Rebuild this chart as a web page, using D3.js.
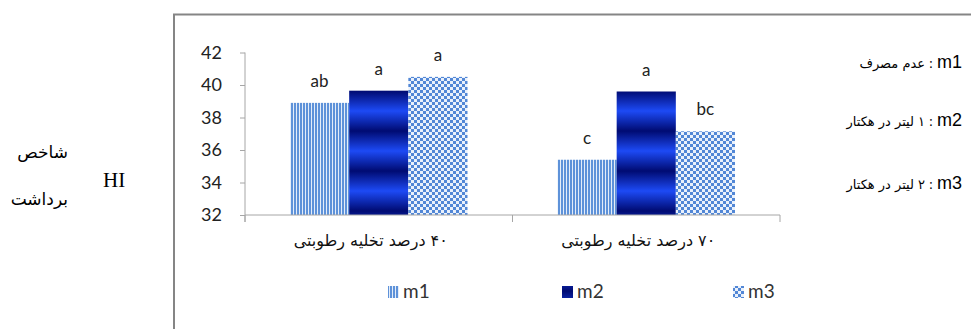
<!DOCTYPE html>
<html>
<head>
<meta charset="utf-8">
<script src="https://cdn.jsdelivr.net/npm/d3@7"></script>
<style>
  html, body { margin: 0; padding: 0; background: #ffffff; }
  svg { display: block; }
  .rtl { direction: rtl; unicode-bidi: embed; }
</style>
</head>
<body>
<svg id="chart" width="971" height="329"></svg>
<script>
// ---------- data ----------
const categories = ["۴۰ درصد تخلیه رطوبتی", "۷۰ درصد تخلیه رطوبتی"];
const seriesNames = ["m1", "m2", "m3"];
const m1Values = [38.9, 35.4];
const m2Values = [39.65, 39.6];
const m3Values = [40.5, 37.15];
const m1Letters = ["ab", "c"];
const m2Letters = ["a", "a"];
const m3Letters = ["a", "bc"];
const yTicks = [32, 34, 36, 38, 40, 42];
const sideLegendKeys = ["m1", "m2", "m3"];
const sideLegendTexts = ["عدم مصرف", "۱ لیتر در هکتار", "۲ لیتر در هکتار"];
const yTitleLines = ["شاخص", "برداشت"];
const yTitleAbbr = "HI";

// ---------- setup ----------
const svg = d3.select("#chart");
const defs = svg.append("defs");

// m1: vertical stripes
const p1 = defs.append("pattern").attr("id", "pat-m1")
  .attr("patternUnits", "userSpaceOnUse").attr("width", 3).attr("height", 6);
p1.append("rect").attr("width", 3).attr("height", 6).attr("fill", "#e4edf9");
p1.append("rect").attr("width", 2).attr("height", 6).attr("fill", "#5e92d9");

// m2: horizontal banded gradient
const g2 = defs.append("linearGradient").attr("id", "grad-m2")
  .attr("x1", 0).attr("y1", 0).attr("x2", 0).attr("y2", 1);
[[0, "#000b72"], [0.5, "#1d4af5"], [1, "#000b72"]].forEach(([o, c]) =>
  g2.append("stop").attr("offset", o).attr("stop-color", c));
const p2 = defs.append("pattern").attr("id", "pat-m2")
  .attr("patternUnits", "userSpaceOnUse").attr("x", 0).attr("y", 91)
  .attr("width", 10).attr("height", 40);
p2.append("rect").attr("width", 10).attr("height", 40).attr("fill", "url(#grad-m2)");

// m3: checkerboard
const p3 = defs.append("pattern").attr("id", "pat-m3")
  .attr("patternUnits", "userSpaceOnUse").attr("width", 6).attr("height", 6);
p3.append("rect").attr("width", 6).attr("height", 6).attr("fill", "#eaf1fb");
p3.append("rect").attr("width", 3).attr("height", 3).attr("fill", "#5287d6");
p3.append("rect").attr("x", 3).attr("y", 3).attr("width", 3).attr("height", 3).attr("fill", "#5287d6");

const fills = { m1: "url(#pat-m1)", m2: "url(#pat-m2)", m3: "url(#pat-m3)" };

// ---------- frame ----------
svg.append("path")
  .attr("d", "M174,340 L174,14.5 L980,14.5")
  .attr("fill", "none").attr("stroke", "#858585").attr("stroke-width", 2);

// ---------- scales ----------
const x0 = d3.scaleBand().domain(categories).range([245, 780]).paddingInner(0).paddingOuter(0);
const x1 = d3.scaleBand().domain(seriesNames).range([45, x0.bandwidth() - 45]).padding(0);
const y = d3.scaleLinear().domain([32, 42]).range([215, 52.5]);

const valuesBySeries = { m1: m1Values, m2: m2Values, m3: m3Values };
const lettersBySeries = { m1: m1Letters, m2: m2Letters, m3: m3Letters };

// ---------- bars ----------
const rows = [];
categories.forEach((c, i) => seriesNames.forEach(s =>
  rows.push({ cat: c, s, v: valuesBySeries[s][i], letter: lettersBySeries[s][i] })));

svg.append("g").selectAll("rect").data(rows).join("rect")
  .attr("x", d => x0(d.cat) + x1(d.s))
  .attr("y", d => y(d.v))
  .attr("width", x1.bandwidth())
  .attr("height", d => y(32) - y(d.v))
  .attr("fill", d => fills[d.s]);

svg.append("g").selectAll("text").data(rows).join("text")
  .attr("x", d => x0(d.cat) + x1(d.s) + x1.bandwidth() / 2)
  .attr("y", d => y(d.v) - 16)
  .attr("text-anchor", "middle")
  .attr("font-family", "Lato, 'Open Sans', sans-serif")
  .attr("font-size", 17)
  .attr("fill", "#222")
  .text(d => d.letter);

// ---------- axes ----------
const yAxis = svg.append("g").attr("transform", "translate(245,0)")
  .call(d3.axisLeft(y).tickValues(yTicks).tickSize(5).tickPadding(18).tickFormat(d3.format("d")));
yAxis.select(".domain").attr("stroke", "#a6a6a6").attr("d", "M0,52.5V222");
yAxis.selectAll(".tick line").attr("stroke", "#a6a6a6");
yAxis.selectAll(".tick text")
  .attr("font-family", "Lato, 'Open Sans', sans-serif")
  .attr("font-size", 18).attr("fill", "#222");

const xAxis = svg.append("g").attr("transform", "translate(0,215)");
xAxis.append("line").attr("x1", 245).attr("x2", 780).attr("y1", 0).attr("y2", 0)
  .attr("stroke", "#a6a6a6");
const bounds = [x0.range()[0], ...categories.slice(1).map(c => x0(c)), x0.range()[1]];
xAxis.selectAll("line.tk").data(bounds).join("line").attr("class", "tk")
  .attr("x1", d => d).attr("x2", d => d).attr("y1", 0).attr("y2", 7)
  .attr("stroke", "#a6a6a6");
xAxis.selectAll("text").data(categories).join("text")
  .attr("class", "rtl")
  .attr("x", d => x0(d) + x0.bandwidth() / 2 - 8)
  .attr("y", 31)
  .attr("text-anchor", "middle")
  .attr("font-family", "'DejaVu Sans', serif")
  .attr("font-size", 16)
  .attr("fill", "#111")
  .text(d => d);

// ---------- bottom legend ----------
const legendX = [388, 562, 733];
const lg = svg.append("g");
seriesNames.forEach((s, i) => {
  lg.append("rect").attr("x", legendX[i]).attr("y", 286).attr("width", 11).attr("height", 12)
    .attr("fill", fills[s]);
  lg.append("text").attr("x", legendX[i] + 15).attr("y", 298)
    .attr("font-family", "Lato, 'Open Sans', sans-serif")
    .attr("font-size", 19).attr("fill", "#333").text(s);
});

// ---------- right-side key ----------
const keyY = [68, 126, 189];
sideLegendKeys.forEach((k, i) => {
  const t = svg.append("text").attr("x", 962).attr("y", keyY[i])
    .attr("text-anchor", "end")
    .attr("font-family", "'Liberation Sans', Arial, sans-serif")
    .attr("font-size", 18).attr("fill", "#000").text(k);
  const w = t.node().getComputedTextLength();
  const colon = svg.append("text").attr("x", 962 - w - 4).attr("y", keyY[i])
    .attr("text-anchor", "end")
    .attr("font-family", "'Liberation Serif', serif")
    .attr("font-size", 14).attr("fill", "#000").text(":");
  const cw = colon.node().getComputedTextLength();
  const pt = svg.append("text").attr("x", 0).attr("y", keyY[i])
    .attr("class", "rtl")
    .attr("text-anchor", "middle")
    .attr("font-family", "'DejaVu Sans', serif")
    .attr("font-size", 13).attr("fill", "#000").text(sideLegendTexts[i]);
  const pw = pt.node().getComputedTextLength();
  pt.attr("x", 962 - w - 4 - cw - 4 - pw / 2);
});

// ---------- y title ----------
yTitleLines.forEach((line, i) => {
  const t = svg.append("text").attr("x", 0).attr("y", [158, 205][i])
    .attr("class", "rtl")
    .attr("text-anchor", "middle")
    .attr("font-family", "'DejaVu Sans', serif").attr("font-size", 17).attr("fill", "#000")
    .text(line);
  const tw = t.node().getComputedTextLength();
  t.attr("x", 68 - tw / 2);
});
svg.append("text").attr("x", 103).attr("y", 187)
  .attr("font-family", "'Liberation Serif', serif").attr("font-size", 21).attr("fill", "#000")
  .text(yTitleAbbr);
</script>
</body>
</html>
